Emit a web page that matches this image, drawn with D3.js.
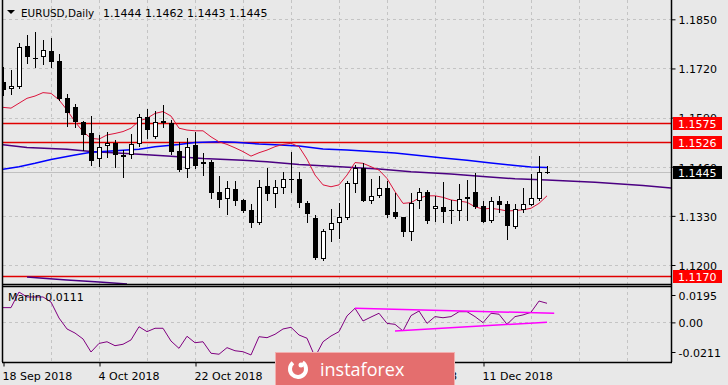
<!DOCTYPE html>
<html lang="en">
<head>
<meta charset="UTF-8">
<title>EURUSD Daily</title>
<script src="https://cdn.jsdelivr.net/npm/d3@7/dist/d3.min.js"></script>
<style>
  body { margin: 0; padding: 0; overflow: hidden; background: #e8e8e8; }
  svg { display: block; }
  text { font-family: "DejaVu Sans", sans-serif; font-size: 11px; fill: #000; }
</style>
</head>
<body>
<svg id="chart" width="728" height="385"></svg>
<script>
// ---- data ----
const tickIdx = [0, 12, 24, 36, 48, 60];
const tickLabels = ["18 Sep 2018", "4 Oct 2018", "22 Oct 2018", "7 Nov 2018", "23 Nov 2018", "11 Dec 2018"];
const priceTicks = [1.1850, 1.1720, 1.1590, 1.1460, 1.1330, 1.1200];

const open = [1.1685,1.1665,1.1672,1.1779,1.1748,1.1750,1.1766,1.1740,1.1641,1.1618,
  1.1578,1.1548,1.1480,1.1514,1.1522,1.1491,1.1490,1.1519,1.1591,1.1539,
  1.1581,1.1575,1.1502,1.1453,1.1518,1.1466,1.1473,1.1393,1.1374,1.1401,
  1.1372,1.1346,1.1310,1.1408,1.1387,1.1405,1.1426,1.1427,1.1363,1.1324,
  1.1215,1.1293,1.1310,1.1325,1.1414,1.1456,1.1368,1.1383,1.1403,1.1340,
  1.1326,1.1287,1.1368,1.1392,1.1349,1.1354,1.1345,1.1344,1.1380,1.1393,
  1.1356,1.1317,1.1369,1.1361,1.1301,1.1346,1.1360,1.1375,1.1444];
const high = [1.1725,1.1716,1.1787,1.1808,1.1816,1.1795,1.1800,1.1758,1.1652,1.1626,
  1.1580,1.1594,1.1544,1.1551,1.1530,1.1504,1.1546,1.1600,1.1613,1.1607,
  1.1623,1.1584,1.1525,1.1535,1.1551,1.1496,1.1478,1.1436,1.1422,1.1422,
  1.1375,1.1361,1.1425,1.1457,1.1425,1.1447,1.1500,1.1447,1.1369,1.1331,
  1.1295,1.1347,1.1365,1.1422,1.1465,1.1471,1.1427,1.1436,1.1422,1.1390,
  1.1328,1.1391,1.1404,1.1399,1.1383,1.1420,1.1372,1.1414,1.1425,1.1443,
  1.1369,1.1381,1.1383,1.1369,1.1361,1.1403,1.1440,1.1489,1.1462];
const low = [1.1650,1.1652,1.1669,1.1734,1.1725,1.1731,1.1725,1.1637,1.1568,1.1564,
  1.1504,1.1465,1.1463,1.1485,1.1460,1.1432,1.1483,1.1515,1.1535,1.1537,
  1.1566,1.1494,1.1449,1.1434,1.1456,1.1439,1.1377,1.1354,1.1335,1.1359,
  1.1340,1.1301,1.1308,1.1371,1.1353,1.1391,1.1394,1.1353,1.1315,1.1215,
  1.1213,1.1264,1.1271,1.1322,1.1394,1.1368,1.1363,1.1381,1.1326,1.1325,
  1.1277,1.1266,1.1351,1.1312,1.1317,1.1315,1.1310,1.1319,1.1319,1.1350,
  1.1314,1.1315,1.1341,1.1269,1.1299,1.1341,1.1358,1.1372,1.1443];
const close = [1.1663,1.1674,1.1776,1.1750,1.1746,1.1768,1.1738,1.1639,1.1603,1.1577,
  1.1544,1.1476,1.1513,1.1522,1.1490,1.1487,1.1519,1.1592,1.1558,1.1578,
  1.1575,1.1500,1.1451,1.1511,1.1462,1.1473,1.1391,1.1372,1.1403,1.1370,
  1.1344,1.1310,1.1407,1.1389,1.1407,1.1427,1.1428,1.1363,1.1334,1.1218,
  1.1290,1.1310,1.1328,1.1416,1.1456,1.1370,1.1383,1.1403,1.1332,1.1326,
  1.1286,1.1365,1.1393,1.1317,1.1356,1.1341,1.1344,1.1375,1.1375,1.1354,
  1.1315,1.1369,1.1359,1.1303,1.1348,1.1361,1.1377,1.1445,1.1445];

// fast moving average (red), one value per bar
const maFast = [1.1617,1.1615,1.1628,1.1641,1.1647,1.1656,1.1654,1.1637,1.1610,1.1579,
  1.1553,1.1535,1.1533,1.1544,1.1548,1.1553,1.1562,1.1581,1.1588,1.1601,
  1.1606,1.1594,1.1562,1.1557,1.1555,1.1555,1.1539,1.1526,1.1519,1.1510,
  1.1500,1.1488,1.1497,1.1504,1.1513,1.1519,1.1522,1.1513,1.1480,1.1438,
  1.1412,1.1407,1.1412,1.1438,1.1471,1.1469,1.1460,1.1451,1.1429,1.1394,
  1.1363,1.1365,1.1377,1.1383,1.1383,1.1379,1.1372,1.1369,1.1366,1.1354,
  1.1348,1.1350,1.1347,1.1343,1.1344,1.1346,1.1350,1.1363,1.1383];

// slow averages, read at selected bars
const maBlueIdx = [0,2,4,6,9,11,14,17,19,22,24,27,29,32,34,37,40,43,46,49,52,55,58,61,64,66,68];
const maBlue = [1.1453,1.1460,1.1469,1.1479,1.1491,1.1498,1.1502,1.1506,1.1513,1.1519,1.1524,1.1526,1.1525,1.1520,
  1.1518,1.1515,1.1507,1.1504,1.1500,1.1496,1.1490,1.1483,1.1477,1.1470,1.1463,1.1459,1.1458];
const maPurpleIdx = [0,3,8,11,17,21,25,30,33,37,41,47,51,56,60,64,68,74,80,83.5];
const maPurple = [1.1518,1.1511,1.1506,1.1500,1.1493,1.1488,1.1482,1.1477,1.1473,1.1466,1.1461,1.1454,1.1447,
  1.1441,1.1434,1.1428,1.1425,1.1419,1.1410,1.1404];
const maLowIdx = [3,5,8,12,15.5];
const maLow = [1.1168,1.1165,1.1160,1.1155,1.1150];

// horizontal levels
const levels = [1.1575, 1.1526, 1.1170];
const bid = 1.1445;

// Marlin oscillator, one value per bar
const marlin = [0.0105,0.0105,0.0216,0.0181,0.0181,0.0181,0.0145,0.0031,-0.0047,-0.0076,
  -0.0118,-0.0211,-0.0150,-0.0138,-0.0166,-0.0156,-0.0125,-0.0031,-0.0066,-0.0042,
  -0.0042,-0.0133,-0.0185,-0.0099,-0.0145,-0.0138,-0.0220,-0.0227,-0.0180,-0.0202,
  -0.0209,-0.0232,-0.0102,-0.0109,-0.0085,-0.0047,-0.0035,-0.0090,-0.0113,-0.0246,
  -0.0138,-0.0097,-0.0066,0.0046,0.0100,0.0010,0.0038,0.0065,-0.0007,-0.0014,
  -0.0061,0.0048,0.0081,-0.0007,0.0041,0.0033,0.0041,0.0076,0.0076,0.0041,
  -0.0002,0.0065,0.0058,-0.0014,0.0041,0.0053,0.0072,0.0152,0.0136];
const marlinTicks = [0.0195, 0, -0.0211];
const marlinTickLabels = ["0.0195", "0.00", "-0.0211"];
// trend lines drawn on the oscillator: [idx0, v0, idx1, v1]
const marlinLines = [[44, 0.0100, 68.9, 0.0065], [49, -0.0061, 68, 0.0001]];

// ---- layout ----
const svg = d3.select("#chart");
const left = 3, right = 671;
const mainTop = 0, mainBottom = 284, indTop = 286, indBottom = 362;

const x = d3.scaleLinear().domain([0, 1]).range([3, 11]);
const y = d3.scaleLinear().domain([1.12, 1.185]).range([265, 19.3]);
const ym = d3.scaleLinear().domain([-0.0211, 0.0195]).range([352, 295]);
const px = v => Math.round(v) + 0.5;

svg.append("rect").attr("width", 728).attr("height", 385).attr("fill", "#e8e8e8");

const defs = svg.append("defs");
defs.append("clipPath").attr("id", "clipMain").append("rect")
  .attr("x", left).attr("y", mainTop).attr("width", right - left).attr("height", mainBottom - mainTop);
defs.append("clipPath").attr("id", "clipInd").append("rect")
  .attr("x", left).attr("y", indTop).attr("width", right - left).attr("height", indBottom - indTop);

// grid
const grid = svg.append("g").attr("stroke", "#c4c4c4").attr("stroke-dasharray", "3,3").attr("stroke-width", 1);
d3.range(6, 84, 6).forEach(i => {
  grid.append("line").attr("x1", px(x(i))).attr("x2", px(x(i))).attr("y1", mainTop).attr("y2", mainBottom);
  grid.append("line").attr("x1", px(x(i))).attr("x2", px(x(i))).attr("y1", indTop).attr("y2", indBottom);
});
priceTicks.forEach(t => {
  grid.append("line").attr("x1", left).attr("x2", right).attr("y1", px(y(t))).attr("y2", px(y(t)));
});
grid.append("line").attr("x1", left).attr("x2", right).attr("y1", px(ym(0))).attr("y2", px(ym(0)));

// main panel
const main = svg.append("g").attr("clip-path", "url(#clipMain)");

main.append("line").attr("x1", left).attr("x2", right)
  .attr("y1", px(y(bid))).attr("y2", px(y(bid))).attr("stroke", "#c0c0c0");

levels.forEach(l => {
  main.append("line").attr("x1", left).attr("x2", right)
    .attr("y1", px(y(l))).attr("y2", px(y(l))).attr("stroke", "#e00000").attr("stroke-width", 1.3);
});

const line = d3.line().x(d => x(d[0])).y(d => y(d[1]));
main.append("path").datum(maPurpleIdx.map((d, i) => [d, maPurple[i]]))
  .attr("d", line).attr("fill", "none").attr("stroke", "#4b0082").attr("stroke-width", 1.5);
main.append("path").datum(maLowIdx.map((d, i) => [d, maLow[i]]))
  .attr("d", line).attr("fill", "none").attr("stroke", "#4b0082").attr("stroke-width", 1.5);
main.append("path").datum(maBlueIdx.map((d, i) => [d, maBlue[i]]))
  .attr("d", line).attr("fill", "none").attr("stroke", "#0000ff").attr("stroke-width", 1.5);
main.append("path").datum(maFast.map((d, i) => [i, d]))
  .attr("d", line).attr("fill", "none").attr("stroke", "#dc143c").attr("stroke-width", 1);

// candles
const candles = main.append("g").selectAll("g").data(open.map((o, i) => ({ i, o, h: high[i], l: low[i], c: close[i] })))
  .join("g");
candles.append("line")
  .attr("x1", d => px(x(d.i))).attr("x2", d => px(x(d.i)))
  .attr("y1", d => Math.round(y(d.h))).attr("y2", d => Math.round(y(d.l)) + 1)
  .attr("stroke", "#000");
candles.each(function (d) {
  const g = d3.select(this);
  const cx = Math.round(x(d.i));
  const top = Math.round(y(Math.max(d.o, d.c)));
  const bot = Math.round(y(Math.min(d.o, d.c)));
  const h = Math.max(1, bot - top);
  if (d.c >= d.o && h > 2) {
    g.append("rect").attr("x", cx - 1.5).attr("y", top + 0.5).attr("width", 4).attr("height", h - 1)
      .attr("fill", "#fff").attr("stroke", "#000");
  } else {
    g.append("rect").attr("x", cx - 2).attr("y", top).attr("width", 5).attr("height", h).attr("fill", "#000");
  }
});

// indicator panel
const ind = svg.append("g").attr("clip-path", "url(#clipInd)");
ind.append("path").datum(marlin.map((d, i) => [i, d]))
  .attr("d", d3.line().x(d => x(d[0])).y(d => ym(d[1])))
  .attr("fill", "none").attr("stroke", "#800080").attr("stroke-width", 1);
ind.selectAll("line.tl").data(marlinLines).join("line").attr("class", "tl")
  .attr("x1", d => x(d[0])).attr("y1", d => ym(d[1])).attr("x2", d => x(d[2])).attr("y2", d => ym(d[3]))
  .attr("stroke", "#ff00ff").attr("stroke-width", 1.5);
svg.append("text").attr("x", 8).attr("y", 301).text("Marlin 0.0111");

// frames
const frame = svg.append("g").attr("stroke", "#000").attr("fill", "none").attr("stroke-width", 1.5);
frame.append("line").attr("x1", 2.5).attr("x2", 2.5).attr("y1", 0).attr("y2", indBottom);
frame.append("line").attr("x1", right + 0.5).attr("x2", right + 0.5).attr("y1", 0).attr("y2", indBottom);
frame.append("line").attr("x1", 2).attr("x2", right + 1).attr("y1", mainBottom + 0.5).attr("y2", mainBottom + 0.5);
frame.append("line").attr("x1", 2).attr("x2", right + 1).attr("y1", indTop + 0.5).attr("y2", indTop + 0.5);
frame.append("line").attr("x1", 2).attr("x2", right + 1).attr("y1", indBottom + 0.5).attr("y2", indBottom + 0.5);

// price axis
const yAxis = svg.append("g").attr("transform", `translate(${right + 0.5},0)`)
  .call(d3.axisRight(y).tickValues(priceTicks).tickFormat(d3.format(".4f")).tickSize(4).tickPadding(3));
yAxis.select(".domain").remove();
yAxis.selectAll("text").style("font-family", "DejaVu Sans").style("font-size", "11px").attr("dy", "0.4em");

const mAxis = svg.append("g").attr("transform", `translate(${right + 0.5},0)`)
  .call(d3.axisRight(ym).tickValues(marlinTicks).tickFormat((d, i) => marlinTickLabels[i]).tickSize(4).tickPadding(3));
mAxis.select(".domain").remove();
mAxis.selectAll("text").style("font-family", "DejaVu Sans").style("font-size", "11px").attr("dy", "0.4em");

// price tags
const tags = levels.map(l => ({ v: l, fill: "#ff0000" })).concat([{ v: bid, fill: "#000" }]);
const tag = svg.append("g").selectAll("g").data(tags).join("g")
  .attr("transform", d => `translate(673,${Math.round(y(d.v))})`);
tag.append("rect").attr("x", 0).attr("y", -6).attr("width", 49).attr("height", 13).attr("fill", d => d.fill);
tag.append("text").attr("x", 5).attr("y", 5).style("fill", "#fff")
  .text(d => d3.format(".4f")(d.v));

// time axis
const xAxis = svg.append("g").attr("transform", `translate(0,${indBottom + 0.5})`)
  .call(d3.axisBottom(x).tickValues(tickIdx).tickFormat((d, i) => tickLabels[i]).tickSize(4).tickPadding(6));
xAxis.select(".domain").remove();
xAxis.selectAll(".tick line").attr("transform", "translate(0.5,0)");
xAxis.selectAll("text").attr("text-anchor", "start").attr("dx", -1)
  .style("font-family", "DejaVu Sans").style("font-size", "11px");

// title
svg.append("path").attr("d", "M7,10 L15,10 L11,14 Z").attr("fill", "#000");
svg.append("text").attr("x", 21).attr("y", 17).style("font-size", "10.4px").text("EURUSD,Daily");
svg.append("text").attr("x", 103).attr("y", 17).text("1.1444 1.1462 1.1443 1.1445");

// watermark
const logo = svg.append("g");
logo.append("rect").attr("x", 275.5).attr("y", 352.5).attr("width", 179).attr("height", 34)
  .attr("fill", "#e46e6e").attr("stroke", "#f2b0b0");
logo.append("path").attr("d", d3.arc()({ innerRadius: 6, outerRadius: 10, startAngle: 0.6, endAngle: 5.6 }))
  .attr("transform", "translate(298,369)").attr("fill", "#fff");
logo.append("circle").attr("cx", 301).attr("cy", 365).attr("r", 2.5).attr("fill", "#fff");
logo.append("text").attr("x", 320).attr("y", 376)
  .style("font-family", "Open Sans").style("font-size", "18px").style("fill", "#fff").text("instaforex");
</script>
</body>
</html>
